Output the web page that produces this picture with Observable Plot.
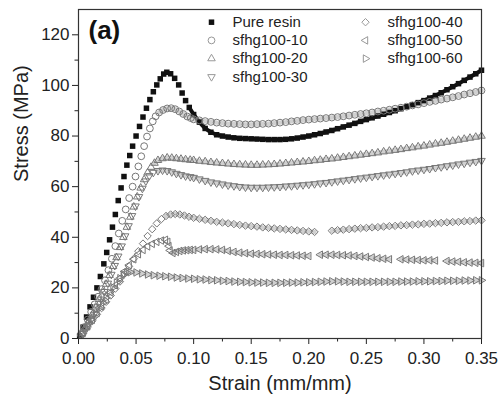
<!DOCTYPE html>
<html><head><meta charset="utf-8">
<script src="https://cdn.jsdelivr.net/npm/d3@7"></script>
<script src="https://cdn.jsdelivr.net/npm/@observablehq/plot@0.6"></script>
<style>body{margin:0;background:#fff}#chart{width:499px;height:395px}</style>
</head><body><div id="chart"></div>
<script>
// ---------- data ----------
const seriesNames = ["Pure resin","sfhg100-10","sfhg100-20","sfhg100-30","sfhg100-40","sfhg100-50","sfhg100-60"];
const xTicks = [0,0.05,0.10,0.15,0.20,0.25,0.30,0.35];
const xMinorTicks = [0.025,0.075,0.125,0.175,0.225,0.275,0.325];
const yTicks = [0,20,40,60,80,100,120];
const yMinorTicks = [10,30,50,70,90,110];

// common strain grid of the dense (post-yield) part of every curve
const tailStrain = [0.100,0.105,0.110,0.115,0.120,0.125,0.130,0.135,0.140,0.145,
 0.150,0.155,0.160,0.165,0.170,0.175,0.180,0.185,0.190,0.195,
 0.200,0.205,0.210,0.215,0.220,0.225,0.230,0.235,0.240,0.245,
 0.250,0.255,0.260,0.265,0.270,0.275,0.280,0.285,0.290,0.295,
 0.300,0.305,0.310,0.315,0.320,0.325,0.330,0.335,0.340,0.345,0.350];

const pureRiseStrain = [0.001,0.004,0.007,0.010,0.013,0.016,0.019,0.022,0.0245,0.027,0.0295,0.032,0.0345,0.037,0.0395,0.042,0.0445,0.047,0.050,0.053,0.056,0.059,0.062,0.065,0.068,0.071,0.074,0.0767,0.080,0.0835,0.087,0.090,0.093,0.0962];
const pureRiseStress = [1,4.5,8.5,12.5,16.3,20,24.5,29.5,34,39,44,49,54.5,59.5,64,68.5,72.3,76,80,83.8,87.5,91,94.4,97.5,100.2,102.6,104.5,105.2,104.6,102.8,100.2,97,94,91.3];
const pureTailStress = [88.5,85.5,83.0,81.5,80.5,80.0,79.6,79.3,79.1,79.0,
 78.9,78.8,78.7,78.6,78.6,78.6,78.7,78.9,79.2,79.6,
 80.0,80.5,81.0,81.6,82.2,82.9,83.6,84.3,85.0,85.8,
 86.5,87.2,87.9,88.6,89.3,90.0,90.8,91.6,92.4,93.2,
 94.0,95.0,96.0,97.1,98.3,99.5,100.7,102.0,103.3,104.6,106.0];

const s10RiseStrain = [0.002,0.005,0.008,0.011,0.014,0.017,0.020,0.023,0.026,0.029,0.032,0.035,0.038,0.041,0.044,0.047,0.0495,0.052,0.0545,0.057,0.0595,0.062,0.0645,0.067,0.070,0.0735,0.077,0.0805,0.084,0.0875,0.091,0.0945,0.0975];
const s10RiseStress = [1.5,4.5,7.5,10.5,13.5,16.5,19.5,23,27,31.5,36.5,41.5,46.5,51,55.5,60,64,68,72,76,79.8,83,85.8,87.8,89.3,90.3,90.9,91,90.6,89.7,88.7,87.7,87.1];
const s10TailStress = [86.6,86.2,85.9,85.6,85.3,85.1,84.9,84.8,84.7,84.6,
 84.6,84.7,84.8,84.9,85.1,85.3,85.5,85.8,86.0,86.3,
 86.5,86.7,86.9,87.1,87.3,87.5,87.8,88.1,88.4,88.7,
 89.0,89.3,89.7,90.0,90.4,90.8,91.2,91.6,92.1,92.5,
 93.0,93.5,93.9,94.4,94.8,95.3,95.8,96.4,96.9,97.4,98.0];

const s20RiseStrain = [0.003,0.006,0.009,0.012,0.015,0.018,0.021,0.024,0.027,0.030,0.033,0.036,0.039,0.042,0.045,0.048,0.051,0.054,0.057,0.060,0.063,0.066,0.069,0.073,0.077,0.081,0.085,0.089,0.093,0.097];
const s20RiseStress = [2,4.5,7,9.5,12.5,15.5,18.5,21.5,25,28.5,32,36,40,44,48,52,56,59.5,62.8,65.5,67.7,69.3,70.4,71.1,71.4,71.3,71.1,70.9,70.7,70.5];
const s20TailStress = [70.4,70.1,69.9,69.6,69.4,69.2,69.0,68.8,68.7,68.6,
 68.5,68.5,68.6,68.7,68.8,69.0,69.2,69.4,69.6,69.8,
 70.0,70.3,70.5,70.8,71.0,71.3,71.6,71.9,72.2,72.5,
 72.8,73.1,73.4,73.8,74.1,74.4,74.7,75.1,75.4,75.8,
 76.1,76.5,76.9,77.2,77.6,78.0,78.4,78.8,79.2,79.6,80.0];

const s30RiseStrain = [0.0045,0.0075,0.0105,0.0135,0.0165,0.0195,0.0225,0.0255,0.0285,0.0315,0.0345,0.0375,0.0405,0.0435,0.0465,0.0495,0.0525,0.0555,0.0585,0.0615,0.065,0.069,0.073,0.077,0.081,0.085,0.089,0.093,0.097];
const s30RiseStress = [2,4.5,7,9.5,12.5,15.5,18.5,21.8,25.3,28.8,32.5,36.5,40.5,44.5,48.5,52.3,56,59.3,62.2,64.3,65.6,66.3,66.5,66.3,65.8,65.2,64.7,64.2,63.9];
const s30TailStress = [63.6,63.0,62.4,61.8,61.4,61.0,60.6,60.3,60.0,59.8,
 59.7,59.7,59.7,59.8,59.9,60.0,60.2,60.3,60.5,60.7,
 60.9,61.1,61.4,61.6,61.9,62.2,62.5,62.8,63.1,63.4,
 63.7,64.0,64.3,64.6,64.9,65.2,65.5,65.8,66.2,66.5,
 66.8,67.1,67.5,67.8,68.2,68.5,68.9,69.2,69.6,69.9,70.3];

const s40RiseStrain = [0.004,0.008,0.012,0.016,0.020,0.024,0.028,0.032,0.036,0.040,0.044,0.048,0.052,0.056,0.060,0.064,0.068,0.072,0.076,0.080,0.084,0.088,0.092,0.096];
const s40RiseStress = [2,4.5,7,9.5,12,14.5,17,19.7,22.5,25.5,28.5,31.5,34.5,37.5,40.5,43.2,45.5,47.2,48.4,49,49.2,49,48.6,48.1];
const s40TailStress = [47.7,47.3,46.9,46.5,46.1,45.8,45.5,45.2,44.9,44.6,
 44.4,44.2,43.9,43.7,43.5,43.3,43.1,42.9,42.7,42.5,
 42.3,42.1,null,null,42.6,42.8,43.0,43.2,43.4,43.6,
 43.7,43.9,44.0,44.2,44.4,44.5,44.7,44.8,45.0,45.1,
 45.3,45.4,45.6,45.7,45.9,46.0,46.1,46.3,46.4,46.6,46.7];

const s50RiseStrain = [0.004,0.008,0.012,0.016,0.020,0.024,0.028,0.032,0.036,0.040,0.044,0.048,0.052,0.056,0.060,0.064,0.068,0.072,0.0755,0.0775,0.0785,0.0795,0.082,0.085,0.088,0.091,0.094,0.097];
const s50RiseStress = [2.2,4.8,7.4,10,12.7,15.4,18.2,21,23.8,26.5,29,31.3,33.3,35,36.4,37.4,38.2,38.7,39,38.2,36.5,34.8,33.8,34.2,34.6,34.8,34.9,35];
const s50TailStress = [35.0,35.2,35.3,35.3,35.2,35.0,34.6,34.2,33.9,33.7,
 33.5,33.4,33.3,33.2,33.1,33.0,33.0,32.9,32.8,32.7,
 32.6,null,33.1,33.1,33.1,33.0,32.9,32.8,32.6,32.4,
 32.2,32.0,31.7,31.5,31.3,null,31.3,31.2,31.1,31.0,
 30.9,30.9,30.8,null,30.6,30.4,30.3,30.1,30.0,29.9,29.8];

const s60RiseStrain = [0.003,0.006,0.009,0.012,0.015,0.018,0.021,0.024,0.027,0.030,0.033,0.036,0.039,0.042,0.045,0.050,0.055,0.060,0.065,0.070,0.075,0.080,0.085,0.090,0.095];
const s60RiseStress = [1.8,3.8,5.8,7.8,9.8,11.9,14,16.1,18.2,20.2,22.1,23.8,25.2,26,26.2,26.1,25.7,25.3,25,24.8,24.6,24.4,24.1,23.9,23.7];
const s60TailStress = [23.6,23.4,23.3,23.1,23.0,22.8,22.7,22.5,22.4,22.3,
 22.2,22.1,22.1,22.0,22.0,22.0,22.0,22.1,22.1,22.2,
 22.2,22.3,22.4,22.5,22.6,22.6,22.5,22.4,22.4,22.4,
 22.4,22.4,22.4,22.4,22.4,22.4,22.5,22.5,22.5,22.6,
 22.6,22.6,22.7,22.7,22.8,22.8,22.8,22.9,22.9,23.0,23.0];

// ---------- table ----------
const parts = [
  [pureRiseStrain, pureRiseStress, pureTailStress],
  [s10RiseStrain, s10RiseStress, s10TailStress],
  [s20RiseStrain, s20RiseStress, s20TailStress],
  [s30RiseStrain, s30RiseStress, s30TailStress],
  [s40RiseStrain, s40RiseStress, s40TailStress],
  [s50RiseStrain, s50RiseStress, s50TailStress],
  [s60RiseStrain, s60RiseStress, s60TailStress]
];
const rowsAll = seriesNames.flatMap((name, k) => {
  const [rx, ry, ty] = parts[k];
  return [
    ...rx.map((x, i) => ({name, strain: x, stress: ry[i]})),
    ...tailStrain.map((x, i) => ({name, strain: x, stress: ty[i]}))
  ];
});
const rows = rowsAll.filter(d => d.stress != null);

// ---------- marker styles ----------
function tri(rot) {
  return {draw(ctx, size) {
    const R = Math.sqrt(size / 1.299);
    for (let k = 0; k < 3; k++) {
      const a = (rot - 90 + 120 * k) * Math.PI / 180;
      const px = R * Math.cos(a), py = R * Math.sin(a);
      if (k) ctx.lineTo(px, py); else ctx.moveTo(px, py);
    }
    ctx.closePath();
  }};
}
const diamondSym = {draw(ctx, size) {
  const h = Math.sqrt(size / 2);
  ctx.moveTo(0, -h); ctx.lineTo(h, 0); ctx.lineTo(0, h); ctx.lineTo(-h, 0); ctx.closePath();
}};
const gray = "#777";
const styles = [
  {symbol: "square", r: 3.1, fill: "#111", stroke: "none"},
  {symbol: "circle", r: 3.4, fill: "none", stroke: gray, strokeWidth: 1},
  {symbol: tri(0), r: 2.8, fill: "none", stroke: gray, strokeWidth: 1},
  {symbol: tri(180), r: 2.8, fill: "none", stroke: gray, strokeWidth: 1},
  {symbol: diamondSym, r: 2.95, fill: "none", stroke: gray, strokeWidth: 1},
  {symbol: tri(-90), r: 2.8, fill: "none", stroke: gray, strokeWidth: 1},
  {symbol: tri(90), r: 2.8, fill: "none", stroke: gray, strokeWidth: 1}
];
// where the markers of each curve start to merge into a band
const bandFrom = [0.094, 0.07, 0.066, 0.066, 0.076, 0.082, 0.045];

const marks = [];
seriesNames.forEach((name, k) => {
  const band = rowsAll.filter(d => d.name === name && d.strain >= bandFrom[k]);
  if (k === 0) {
    marks.push(Plot.line(band, {x: "strain", y: "stress", stroke: "#111", strokeWidth: 4}));
  } else {
    marks.push(Plot.line(band, {x: "strain", y: "stress", stroke: "#aaa", strokeWidth: 4.5, strokeOpacity: 0.55}));
  }
});
seriesNames.forEach((name, k) => {
  marks.push(Plot.dot(rows.filter(d => d.name === name), {x: "strain", y: "stress", ...styles[k]}));
});

// axes
marks.push(Plot.axisX(xTicks, {tickSize: 6, tickPadding: 7, tickFormat: d3.format(".2f"), fontSize: 17, label: null}));
marks.push(Plot.axisX(xMinorTicks, {tickSize: 3.5, tickFormat: () => "", label: null}));
marks.push(Plot.axisY(yTicks, {tickSize: 6, tickPadding: 3, fontSize: 17, label: null}));
marks.push(Plot.axisY(yMinorTicks, {tickSize: 3.5, tickFormat: () => "", label: null}));
marks.push(Plot.frame({stroke: "#333", strokeWidth: 1.2}));

// axis titles
marks.push(Plot.text(["Strain (mm/mm)"], {frameAnchor: "bottom", dy: 51, lineAnchor: "bottom", fontSize: 20, fill: "#222"}));
marks.push(Plot.text(["Stress (MPa)"], {frameAnchor: "left", dx: -65, dy: 8, rotate: -90, lineAnchor: "top", fontSize: 20, fill: "#222"}));

// panel label
marks.push(Plot.text(["(a)"], {frameAnchor: "top-left", dx: 10, dy: 11, lineAnchor: "top", textAnchor: "start", fontSize: 26, fontWeight: "bold", fill: "#111"}));

// legend
seriesNames.forEach((name, k) => {
  const col = k < 4 ? 0 : 1;
  const row = k < 4 ? k : k - 4;
  const mx = col === 0 ? 133 : 287;
  const tx = col === 0 ? 154 : 309;
  const dy = 12.7 + row * 18.2;
  const st = styles[k];
  marks.push(Plot.dot([name], {frameAnchor: "top-left", dx: mx, dy, symbol: st.symbol, r: st.r,
    fill: k === 0 ? "#111" : "none", stroke: k === 0 ? "none" : "#999", strokeWidth: 1}));
  marks.push(Plot.text([name], {frameAnchor: "top-left", dx: tx, dy, textAnchor: "start", lineAnchor: "middle", fontSize: 15, fill: "#222"}));
});

const chart = Plot.plot({
  width: 499, height: 395,
  marginTop: 9, marginRight: 18, marginBottom: 57, marginLeft: 78,
  x: {domain: [0, 0.35]},
  y: {domain: [0, 130]},
  style: {fontFamily: "'Liberation Sans', Arial, Helvetica, sans-serif", color: "#222", background: "#fff"},
  marks
});
document.getElementById("chart").appendChild(chart);
</script>
</body></html>
